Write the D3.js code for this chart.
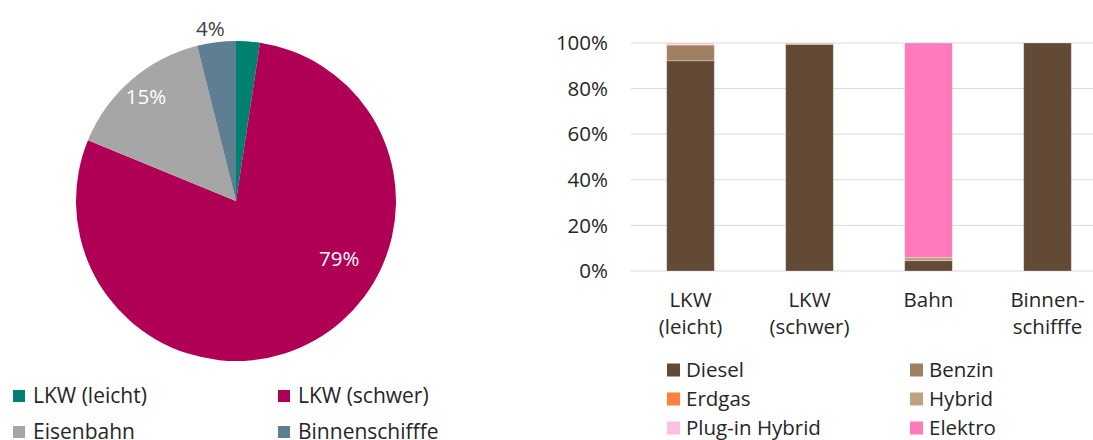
<!DOCTYPE html>
<html>
<head>
<meta charset="utf-8">
<script src="https://cdn.jsdelivr.net/npm/d3@7"></script>
<style>
  body { margin: 0; background: #fff; }
  text { font-family: "Open Sans", sans-serif; }
</style>
</head>
<body>
<div id="body"></div>
<script>
// pie: share of freight transport by carrier
var pieNames = ["LKW (leicht)", "LKW (schwer)", "Eisenbahn", "Binnenschifffe"];
var pieValues = [2.4, 78.8, 14.9, 3.9];
var pieLabels = ["", "79%", "15%", "4%"];
var pieColors = ["#00806E", "#AF0055", "#A6A6A6", "#5E7E91"];

// stacked bars: drive types per carrier (%)
var categories = [["LKW", "(leicht)"], ["LKW", "(schwer)"], ["Bahn"], ["Binnen-", "schifffe"]];
var fuels = ["Diesel", "Benzin", "Erdgas", "Hybrid", "Plug-in Hybrid", "Elektro"];
var diesel   = [92.2, 99.4, 4.5, 100];
var benzin   = [6.9, 0, 0, 0];
var erdgas   = [0, 0.3, 0, 0];
var hybrid   = [0.2, 0.3, 1.5, 0];
var plugin   = [0.5, 0, 0, 0];
var elektro  = [0.2, 0, 94, 0];
var yTicks = [0, 20, 40, 60, 80, 100];
var fuelColors = ["#634A36", "#A08062", "#FF7F3F", "#BFA07F", "#FFBFDF", "#FF7ABA"];

var W = 1093, H = 440;
var fs = "20.5px";
var svg = d3.select("#body").append("svg")
    .attr("width", W)
    .attr("height", H);

// ---- pie ----
var cx = 236, cy = 201, r = 160;
var labelFrac = [0.5, 0.39, 0.5, 0.4];
var labelR = [0, 0.74, 0.86, 1.09];
var labelFill = ["#fff", "#fff", "#fff", "#404040"];

var pie = d3.pie().sort(null).value(d => d)(pieValues);
var arc = d3.arc().innerRadius(0).outerRadius(r);
var gp = svg.append("g").attr("transform", `translate(${cx},${cy})`);

gp.selectAll("path")
    .data(pie)
    .join("path")
    .attr("d", arc)
    .attr("fill", (d, i) => pieColors[i]);

gp.selectAll("text")
    .data(pie)
    .join("text")
    .attr("transform", (d, i) => {
        var a = d.startAngle + (d.endAngle - d.startAngle) * labelFrac[i];
        var rr = r * labelR[i];
        return `translate(${Math.sin(a) * rr},${-Math.cos(a) * rr})`;
    })
    .attr("text-anchor", "middle")
    .attr("dy", "0.35em")
    .style("font-size", fs)
    .attr("fill", (d, i) => labelFill[i])
    .text((d, i) => pieLabels[i]);

// pie legend
var lg = svg.append("g");
pieNames.forEach((n, i) => {
    var x = 13 + (i % 2) * 265, y = 396 + Math.floor(i / 2) * 36;
    lg.append("rect").attr("x", x).attr("y", y - 6).attr("width", 12).attr("height", 12)
        .attr("fill", pieColors[i]);
    lg.append("text").attr("x", x + 20).attr("y", y).attr("dy", "0.35em")
        .style("font-size", "21px").attr("fill", "#262626").text(n);
});

// ---- stacked bar chart ----
var x0 = 631, x1 = 1107, yTop = 43, yBot = 271;
var x = d3.scaleBand().domain(d3.range(categories.length)).range([x0, x1]).paddingInner(0.6).paddingOuter(0.3);
var y = d3.scaleLinear().domain([0, 100]).range([yBot, yTop]);

var rows = categories.map((c, i) => ({
    i: i, Diesel: diesel[i], Benzin: benzin[i], Erdgas: erdgas[i],
    Hybrid: hybrid[i], "Plug-in Hybrid": plugin[i], Elektro: elektro[i]
}));
var stack = d3.stack().keys(fuels)(rows);

var gb = svg.append("g");

gb.selectAll("line.grid")
    .data(yTicks)
    .join("line")
    .attr("class", "grid")
    .attr("x1", x0).attr("x2", W)
    .attr("y1", d => y(d)).attr("y2", d => y(d))
    .attr("stroke", "#D9D9D9").attr("stroke-width", 1);

gb.selectAll("text.tick")
    .data(yTicks)
    .join("text")
    .attr("class", "tick")
    .attr("x", 608).attr("y", d => y(d)).attr("dy", "0.35em")
    .attr("text-anchor", "end")
    .style("font-size", fs).attr("fill", "#262626")
    .text(d => d + "%");

gb.selectAll("g.layer")
    .data(stack)
    .join("g")
    .attr("class", "layer")
    .attr("fill", (d, i) => fuelColors[i])
    .selectAll("rect")
    .data(d => d)
    .join("rect")
    .attr("x", (d, i) => x(i))
    .attr("width", x.bandwidth())
    .attr("y", d => y(d[1]))
    .attr("height", d => Math.max(0, y(d[0]) - y(d[1])))
    .attr("stroke", "#fff").attr("stroke-opacity", 0.35).attr("stroke-width", 0.75);

// category labels
categories.forEach((c, i) => {
    c.forEach((line, j) => {
        gb.append("text")
            .attr("x", x(i) + x.bandwidth() / 2)
            .attr("y", 300 + j * 27).attr("dy", "0.35em")
            .attr("text-anchor", "middle")
            .style("font-size", fs).attr("fill", "#262626")
            .text(line);
    });
});

// bar legend
var bl = svg.append("g");
fuels.forEach((f, i) => {
    var lx = 667 + (i % 2) * 243, ly = 370 + Math.floor(i / 2) * 29;
    bl.append("rect").attr("x", lx).attr("y", ly - 6.5).attr("width", 13).attr("height", 13)
        .attr("fill", fuelColors[i]);
    bl.append("text").attr("x", lx + 19).attr("y", ly).attr("dy", "0.35em")
        .style("font-size", fs).attr("fill", "#262626").text(f);
});
</script>
</body>
</html>
